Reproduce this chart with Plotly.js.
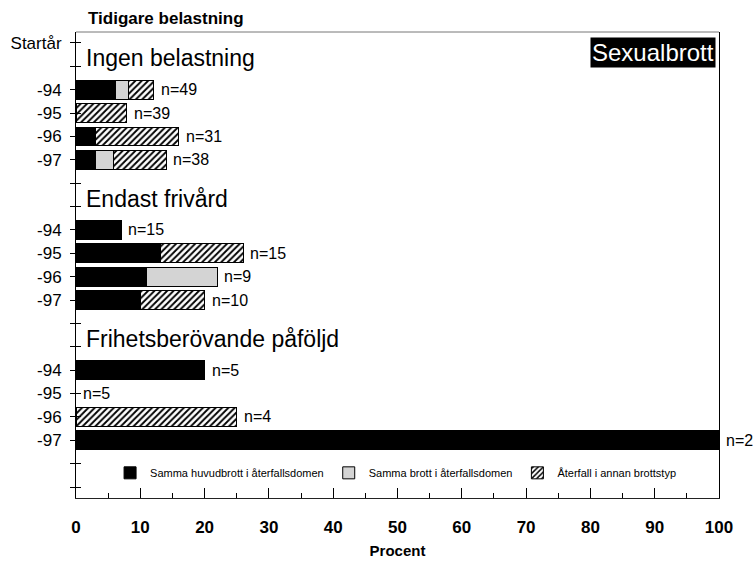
<!DOCTYPE html>
<html>
<head>
<meta charset="utf-8">
<script src="https://cdn.plot.ly/plotly-3.0.1.min.js"></script>
<style>
  body { margin: 0; background: #fff; }
  #chart { width: 754px; height: 562px; }
</style>
</head>
<body>
<div id="chart"></div>
<script>
// values in percent, one entry per row: 3 groups x 4 start years
var years = ['-94', '-95', '-96', '-97'];
var groupNames = ['Ingen belastning', 'Endast frivård', 'Frihetsberövande påföljd'];
var seriesNames = ['Samma huvudbrott i återfallsdomen', 'Samma brott i återfallsdomen', 'Återfall i annan brottstyp'];

var sameMain  = [6.1, 0,   3.1,  3.1,   7.0, 13.1, 11.0, 10.0,   20, 0, 0,  100];
var sameCrime = [2.0, 0,   0,    2.8,   0,   0,    11.0, 0,      0,  0, 0,  0];
var otherType = [4.0, 7.9, 12.9, 8.1,   0,   12.9, 0,    10.0,   0,  0, 25, 0];
var nValues   = [49, 39, 31, 38,   15, 15, 9, 10,   5, 5, 4, 2];

var font = 'Liberation Sans, Arial, sans-serif';

// slot on the category axis: Startår, blank, 4 years, blank, blank, 4 years ...
function rowSlot(i) {
  return 2 + Math.floor(i / 4) * 6 + (i % 4);
}

var slots = sameMain.map(function(v, i) { return rowSlot(i); });
var nonZero = function(arr) { return arr.map(function(v) { return v === 0 ? null : v; }); };

var tickVals = [];
var tickText = [];
for (var s = 0; s < 20; s++) {
  tickVals.push(s);
  tickText.push('');
}
tickText[0] = 'Startår';
slots.forEach(function(slot, i) { tickText[slot] = years[i % 4]; });

var lineStyle = {color: '#000', width: 1};

var mainTrace = {
  type: 'bar', orientation: 'h',
  y: slots, x: nonZero(sameMain), width: 0.8,
  name: seriesNames[0],
  marker: {color: '#000', line: lineStyle},
  hoverinfo: 'skip'
};

var crimeTrace = {
  type: 'bar', orientation: 'h',
  y: slots, x: nonZero(sameCrime), width: 0.8,
  name: seriesNames[1],
  marker: {color: '#eeeeee', line: lineStyle,
    pattern: {shape: '.', fgcolor: '#b0b0b0', bgcolor: '#f0f0f0', size: 2, solidity: 0.5}},
  hoverinfo: 'skip'
};

var otherTrace = {
  type: 'bar', orientation: 'h',
  y: slots, x: nonZero(otherType), width: 0.8,
  name: seriesNames[2],
  marker: {color: '#fff', line: lineStyle,
    pattern: {shape: '/', fgcolor: '#000', bgcolor: '#fff', size: 4.5, solidity: 0.42}},
  hoverinfo: 'skip'
};

// dummy trace so the second (inside ticks) axis is drawn
var tickTrace = {
  type: 'scatter', x: [null], y: [null], yaxis: 'y2',
  showlegend: false, hoverinfo: 'skip'
};

var annotations = [];

groupNames.forEach(function(name, g) {
  annotations.push({
    x: 0, y: g * 6 + 0.66, xref: 'x', yref: 'y',
    text: name, showarrow: false, xanchor: 'left', yanchor: 'middle', xshift: 8,
    font: {family: font, size: 23, color: '#000'}
  });
});

nValues.forEach(function(n, i) {
  annotations.push({
    x: sameMain[i] + sameCrime[i] + otherType[i], y: slots[i], xref: 'x', yref: 'y',
    text: 'n=' + n, showarrow: false, xanchor: 'left', yanchor: 'middle', xshift: 5,
    font: {family: font, size: 16, color: '#000'}
  });
});

annotations.push({
  x: 0.0156, y: 1.028, xref: 'paper', yref: 'paper',
  text: '<b>Tidigare belastning</b>', showarrow: false, xanchor: 'left', yanchor: 'middle',
  font: {family: font, size: 17, color: '#000'}
});

annotations.push({
  x: 0.995, y: 0.989, xref: 'paper', yref: 'paper',
  text: 'Sexualbrott', showarrow: false, xanchor: 'right', yanchor: 'top',
  bgcolor: '#000', borderpad: 1,
  font: {family: font, size: 24, color: '#fff'}
});

var layout = {
  width: 754, height: 562,
  margin: {l: 76, r: 35, t: 32, b: 64},
  paper_bgcolor: '#fff', plot_bgcolor: '#fff',
  barmode: 'stack',
  showlegend: true,
  legend: {
    orientation: 'h', x: 0.497, xanchor: 'center', y: 0.054, yanchor: 'middle',
    font: {family: font, size: 11, color: '#000'}, bgcolor: 'rgba(0,0,0,0)',
    traceorder: 'normal', itemwidth: 30
  },
  xaxis: {
    range: [0, 100], tick0: 0, dtick: 10,
    ticks: 'inside', ticklen: 10, tickcolor: '#000', tickwidth: 1,
    minor: {dtick: 5, ticks: 'inside', ticklen: 5, tickcolor: '#000', showgrid: false},
    showline: true, linecolor: '#222', linewidth: 1, mirror: false,
    showgrid: false, zeroline: false, fixedrange: true,
    ticklabelstandoff: 14,
    tickfont: {family: font, size: 17, color: '#000', weight: 'bold'},
    title: {text: 'Procent', standoff: 9, font: {family: font, size: 15, color: '#000', weight: 'bold'}}
  },
  yaxis: {
    range: [19.47, -0.47], tickmode: 'array', tickvals: tickVals, ticktext: tickText,
    ticks: 'outside', ticklen: 5, tickcolor: '#000', tickwidth: 1,
    showline: true, linecolor: '#000', linewidth: 1, mirror: true,
    showgrid: false, zeroline: false, fixedrange: true,
    ticklabelstandoff: 5,
    tickfont: {family: font, size: 17, color: '#000'}
  },
  yaxis2: {
    overlaying: 'y', side: 'left',
    range: [19.47, -0.47], tickmode: 'array', tickvals: tickVals,
    ticks: 'inside', ticklen: 5, tickcolor: '#000', tickwidth: 1,
    showticklabels: false, showline: false, showgrid: false, zeroline: false, fixedrange: true
  },
  shapes: [{
    type: 'line', xref: 'paper', yref: 'paper', x0: 0, x1: 1, y0: 1, y1: 1,
    line: {color: '#777', width: 1}
  }],
  annotations: annotations
};

Plotly.newPlot('chart', [mainTrace, crimeTrace, otherTrace, tickTrace], layout, {displayModeBar: false, staticPlot: true});
</script>
</body>
</html>
